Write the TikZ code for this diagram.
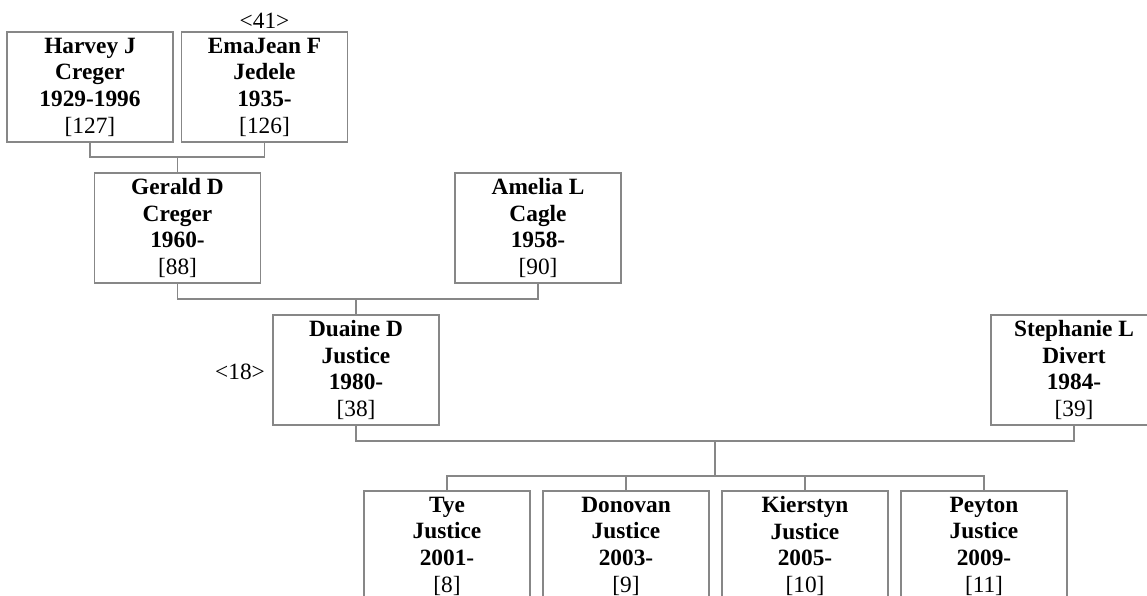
\documentclass[tikz,border=0pt]{standalone}
\usepackage{fontspec}
\setmainfont{Liberation Serif}
\tikzset{every picture/.style={line width=1pt}}
\tikzset{
  person/.style={draw={rgb, 255:red, 135; green, 135; blue, 135 }, minimum width=124.5pt, minimum height=82.5pt, inner sep=0pt, align=center, font=\fontsize{17.5}{20}\selectfont\bfseries},
  link/.style={draw={rgb, 255:red, 135; green, 135; blue, 135 }},
  tag/.style={inner sep=0.75pt, font=\fontsize{17.5}{20}\selectfont}
}

\begin{document}
\begin{tikzpicture}[x=0.75pt,y=0.75pt,yscale=-1,xscale=1]
                            %set diagram to the size of the reference
                            \clip (0,0) rectangle (1147,596);

                            % Person Nodes
                            \draw (90,87) node (harvey) [person] {Harvey J\\Creger\\1929-1996\\\normalfont[127]};
                            \draw (264.5,87) node (emajean) [person] {EmaJean F\\Jedele\\1935-\\\normalfont[126]};
                            \draw (177.5,228) node (gerald) [person] {Gerald D\\Creger\\1960-\\\normalfont[88]};
                            \draw (538,228) node (amelia) [person] {Amelia L\\Cagle\\1958-\\\normalfont[90]};
                            \draw (356,370) node (duaine) [person] {Duaine D\\Justice\\1980-\\\normalfont[38]};
                            \draw (1074,370) node (stephanie) [person] {Stephanie L\\Divert\\1984-\\\normalfont[39]};
                            \draw (447,546) node (tye) [person] {Tye\\Justice\\2001-\\\normalfont[8]};
                            \draw (626,546) node (donovan) [person] {Donovan\\Justice\\2003-\\\normalfont[9]};
                            \draw (805,546) node (kierstyn) [person] {Kierstyn\\Justice\\2005-\\\normalfont[10]};
                            \draw (984,546) node (peyton) [person] {Peyton\\Justice\\2009-\\\normalfont[11]};

                            % Text Node
                            \draw (264.5,21) node (tag41) [tag] {<41>};
                            % Text Node
                            \draw (240,372) node (tag18) [tag] {<18>};

                            %Straight Lines
                            \coordinate (j1) at (177.5,157);
                            \draw [link] (harvey.south) |- (j1) -| (emajean.south);
                            \draw [link] (j1) -- (gerald.north);
                            %Straight Lines
                            \coordinate (j2) at (356,299);
                            \draw [link] (gerald.south) |- (j2) -| (amelia.south);
                            \draw [link] (j2) -- (duaine.north);
                            %Straight Lines
                            \coordinate (j3) at (715,441);
                            \coordinate (k3) at (715,476);
                            \draw [link] (duaine.south) |- (j3) -| (stephanie.south);
                            \draw [link] (j3) -- (k3);
                            \draw [link] (tye.north) |- (k3) -| (peyton.north);
                            \draw [link] (donovan.north) -- (donovan.north |- k3);
                            \draw [link] (kierstyn.north) -- (kierstyn.north |- k3);

\end{tikzpicture}
\end{document}
